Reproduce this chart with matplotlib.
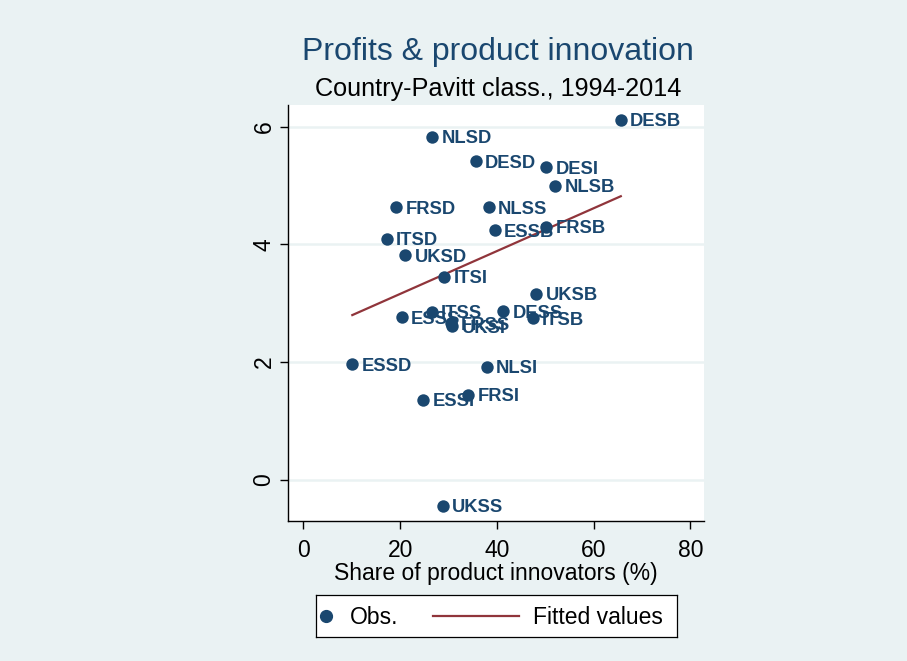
import matplotlib.pyplot as plt
import numpy as np

plt.rcParams['font.family'] = ['Liberation Sans', 'DejaVu Sans']

# data
labels = ['DESB', 'NLSD', 'DESD', 'DESI', 'NLSB', 'FRSD', 'NLSS', 'ESSB',
          'FRSB', 'ITSD', 'UKSD', 'ITSI', 'UKSB', 'ITSS', 'ESSS', 'DESS',
          'ITSB', 'FRSS', 'UKSI', 'ESSD', 'NLSI', 'FRSI', 'ESSI', 'UKSS']
share = [65.6, 26.6, 35.6, 50.2, 52.1, 19.1, 38.3, 39.5,
         50.2, 17.2, 21.0, 29.1, 48.1, 26.5, 20.3, 41.3,
         47.4, 30.5, 30.7, 10.1, 37.9, 34.1, 24.7, 28.8]
profits = [6.12, 5.83, 5.42, 5.31, 5.00, 4.63, 4.63, 4.24,
           4.30, 4.10, 3.82, 3.45, 3.16, 2.86, 2.76, 2.87,
           2.75, 2.66, 2.61, 1.96, 1.92, 1.45, 1.36, -0.44]
# fitted values at the ends of the data range
fit_x = [10.1, 65.6]
fit_y = [2.80, 4.82]

navy = '#1A476F'
maroon = '#90353B'
bg = '#EAF2F3'

fig = plt.figure(figsize=(9.07, 6.61), dpi=100, facecolor=bg)
ax = fig.add_axes([0.3175, 0.2118, 0.4587, 0.6293])
ax.set_facecolor('white')

ax.scatter(share, profits, s=80, color=navy, zorder=4, linewidths=0)
ax.plot(fit_x, fit_y, color=maroon, lw=1.6, zorder=2)
for lab, xi, yi in zip(labels, share, profits):
    ax.annotate(lab, (xi, yi), xytext=(6.8, -1.5), textcoords='offset points',
                va='center', ha='left', fontsize=13.2, fontweight='bold',
                color=navy, zorder=3)

ax.set_xlim(-3.2, 82.8)
ax.set_ylim(-0.70, 6.37)
ax.set_xticks([0, 20, 40, 60, 80])
ax.set_yticks([0, 2, 4, 6])
ax.set_yticklabels(['0', '2', '4', '6'], rotation=90, va='center')
ax.tick_params(labelsize=16.5, length=6, width=1, color='black')
ax.tick_params(axis='x', pad=7)
ax.tick_params(axis='y', pad=3)
ax.grid(axis='y', color=bg, lw=1.8)
ax.set_axisbelow(True)
for s in ['top', 'right']:
    ax.spines[s].set_visible(False)
for s in ['left', 'bottom']:
    ax.spines[s].set_linewidth(1)

ax.set_xlabel('Share of product innovators (%)', fontsize=16.5, labelpad=0)

fig.text(0.549, 0.921, 'Profits & product innovation', ha='center', va='center',
         fontsize=23, color=navy)
fig.text(0.549, 0.865, 'Country-Pavitt class., 1994-2014', ha='center', va='center',
         fontsize=18.2, color='black')

# legend box, laid out in its own pixel-sized axes
lax = fig.add_axes([316 / 907, 24 / 661, 361 / 907, 42 / 661])
lax.set_xlim(0, 361)
lax.set_ylim(0, 42)
lax.set_xticks([])
lax.set_yticks([])
lax.set_facecolor('white')
for s in lax.spines.values():
    s.set_linewidth(0.9)
lax.plot([10], [21], 'o', color=navy, markersize=8.5)
lax.plot([117, 203], [21, 21], color=maroon, lw=1.6)
lax.text(34, 20, 'Obs.', fontsize=16.5, va='center', ha='left')
lax.text(217, 20, 'Fitted values', fontsize=16.5, va='center', ha='left')

plt.savefig('out.png', dpi=100, facecolor=bg)
